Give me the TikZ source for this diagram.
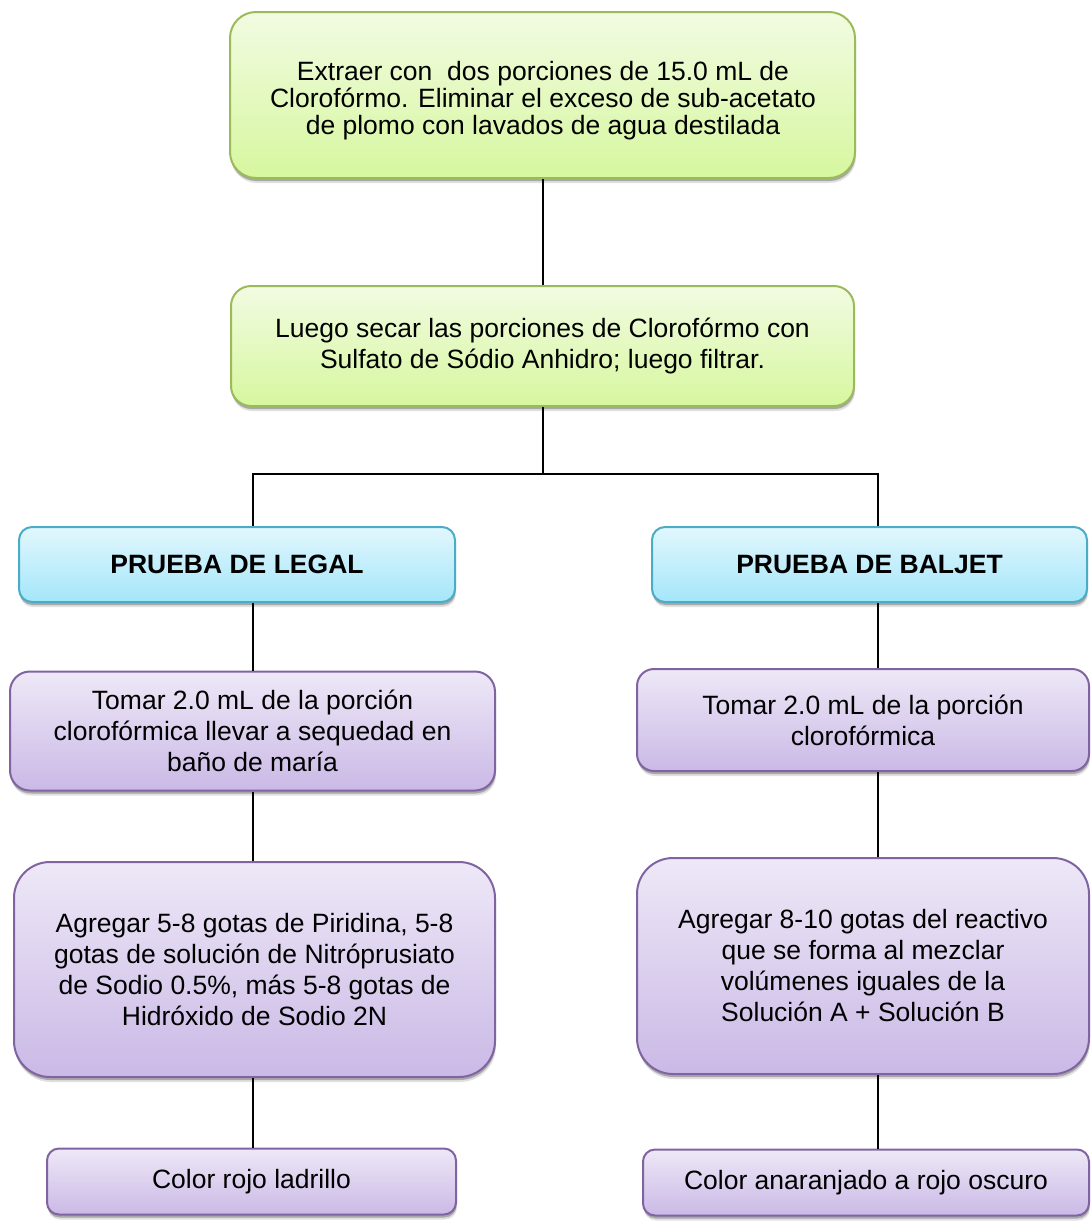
\documentclass[tikz,border=0pt]{standalone}
\usepackage{fontspec}
\setmainfont{Liberation Sans}
\usetikzlibrary{shadows}
\definecolor{gBorder}{RGB}{155,187,89}
\definecolor{gTop}{RGB}{242,251,226}
\definecolor{gBot}{RGB}{214,247,158}
\definecolor{bBorder}{RGB}{75,172,198}
\definecolor{bTop}{RGB}{226,247,253}
\definecolor{bBot}{RGB}{164,230,250}
\definecolor{pBorder}{RGB}{128,100,162}
\definecolor{pTop}{RGB}{238,232,247}
\definecolor{pBot}{RGB}{202,185,230}
\tikzset{
  boxbase/.style={draw, line width=2pt, inner sep=0pt, align=center,
    font=\fontsize{26.5}{31}\selectfont,
    drop shadow={shadow xshift=1pt, shadow yshift=-5pt, opacity=0.12, fill=black},
    drop shadow={shadow xshift=0.5pt, shadow yshift=-3pt, opacity=0.25, fill=black}},
  greenbox/.style={boxbase, draw=gBorder, top color=gTop, bottom color=gBot},
  bluebox/.style={boxbase, draw=bBorder, top color=bTop, bottom color=bBot},
  purplebox/.style={boxbase, draw=pBorder, top color=pTop, bottom color=pBot},
  boxtext/.style={inner sep=0pt, align=center, font=\fontsize{26.5}{26.7}\selectfont},
  conn/.style={draw=black, line width=2pt}
}
\begin{document}
\begin{tikzpicture}[x=1pt,y=-1pt]
\useasboundingbox (0,0) rectangle (1091,1221);
\coordinate (lx) at (253,0);
\coordinate (rx) at (878,0);
\coordinate (hy) at (0,474);

\node[greenbox, minimum width=625pt, minimum height=166pt, rounded corners=26pt] (b1) at (542.5,95) {};
\node[boxtext] (b1t) at (543,100.5)
  {Extraer con\ \ dos porciones de 15.0 mL de\\Clorofórmo. Eliminar el exceso de sub-acetato\\de plomo con lavados de agua destilada};
\node[greenbox, minimum width=623pt, minimum height=120pt, rounded corners=20pt] (b2) at (542.5,346)
  {Luego secar las porciones de Clorofórmo con\\Sulfato de Sódio Anhidro; luego filtrar.};
\node[bluebox, minimum width=436pt, minimum height=75pt, rounded corners=13pt, font=\fontsize{26.5}{31}\selectfont\bfseries] (b3) at (237,564.5)
  {PRUEBA DE LEGAL};
\node[bluebox, minimum width=435pt, minimum height=75pt, rounded corners=13pt, font=\fontsize{26.5}{31}\selectfont\bfseries] (b4) at (869.5,564.5)
  {PRUEBA DE BALJET};
\node[purplebox, minimum width=485pt, minimum height=119pt, rounded corners=20pt] (b5) at (252.5,731)
  {Tomar 2.0 mL de la porción\\clorofórmica llevar a sequedad en\\baño de maría};
\node[purplebox, minimum width=452pt, minimum height=102pt, rounded corners=17pt] (b6) at (863,720)
  {Tomar 2.0 mL de la porción\\clorofórmica};
\node[purplebox, minimum width=481pt, minimum height=215pt, rounded corners=36pt] (b7) at (254.5,969.5)
  {Agregar 5-8 gotas de Piridina, 5-8\\gotas de solución de Nitróprusiato\\de Sodio 0.5\%, más 5-8 gotas de\\Hidróxido de Sodio 2N};
\node[purplebox, minimum width=452pt, minimum height=216pt, rounded corners=36pt] (b8) at (863,966)
  {Agregar 8-10 gotas del reactivo\\que se forma al mezclar\\volúmenes iguales de la\\Solución A + Solución B};
\node[purplebox, minimum width=409pt, minimum height=66pt, rounded corners=12pt] (b9) at (251.5,1181.5)
  {Color rojo ladrillo};
\node[purplebox, minimum width=446pt, minimum height=66pt, rounded corners=12pt] (b10) at (866,1182.5)
  {Color anaranjado a rojo oscuro};

\draw[conn] (b1.south) -- (b2.north);
\draw[conn] (b2.south) -- (b2.south |- hy);
\draw[conn] (b3.north -| lx) -- (lx |- hy) -- (rx |- hy) -- (b4.north -| rx);
\draw[conn] (b3.south -| lx) -- (b5.north -| lx);
\draw[conn] (b5.south -| lx) -- (b7.north -| lx);
\draw[conn] (b7.south -| lx) -- (b9.north -| lx);
\draw[conn] (b4.south -| rx) -- (b6.north -| rx);
\draw[conn] (b6.south -| rx) -- (b8.north -| rx);
\draw[conn] (b8.south -| rx) -- (b10.north -| rx);
\end{tikzpicture}
\end{document}
